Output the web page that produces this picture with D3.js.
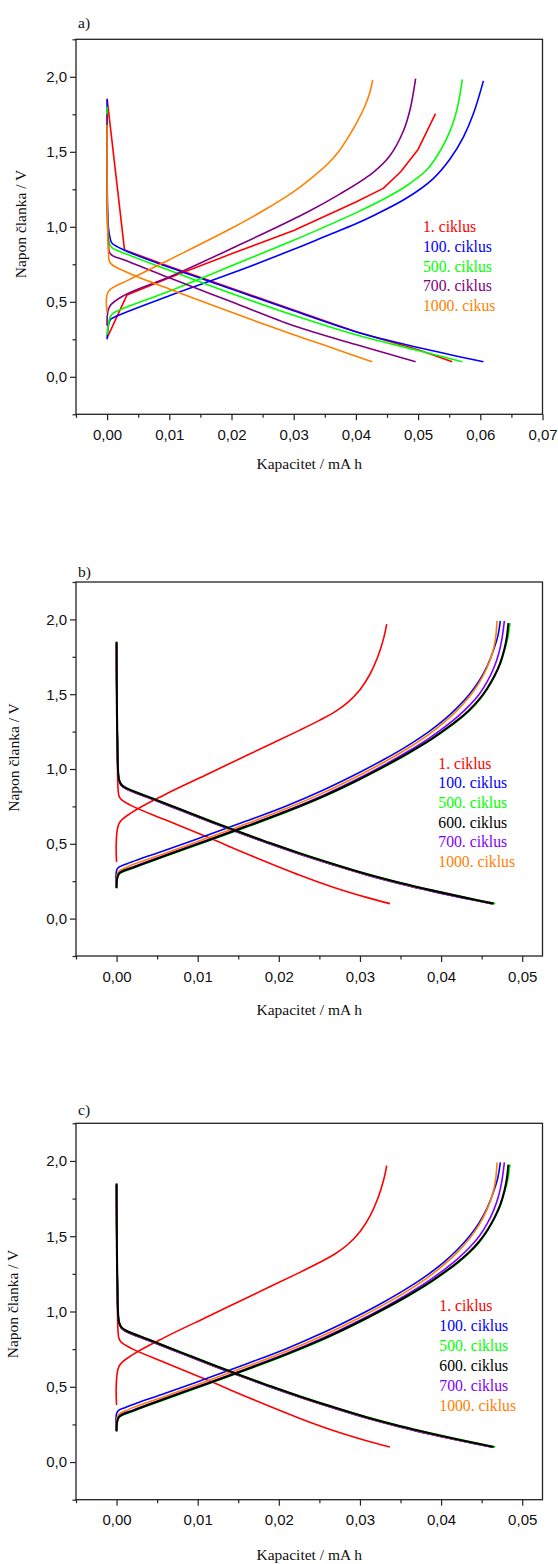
<!DOCTYPE html>
<html><head><meta charset="utf-8">
<script src="https://cdn.jsdelivr.net/npm/d3@7"></script>
<style>body{margin:0;background:#fff} svg{display:block}</style>
</head><body>
<script>
// ---------- tick values ----------
const xTicksA = [0,0.01,0.02,0.03,0.04,0.05,0.06,0.07];
const xTicksB = [0,0.01,0.02,0.03,0.04,0.05];
const yTicks = [0,0.5,1.0,1.5,2.0];

// ---------- panel a data: [capacity mAh, voltage V] ----------
const aRedDis = [[0,1.855],[0.0028,0.846],[0.01,0.735],[0.02,0.59],[0.03,0.445],[0.04,0.30],[0.05,0.18],[0.0555,0.10]];
const aRedCh = [[0,0.26],[0.0032,0.546],[0.01,0.66],[0.02,0.82],[0.03,0.975],[0.04,1.165],[0.0444,1.256],[0.0472,1.367],[0.050,1.516],[0.0528,1.755]];
const aBlueDis = [[0,1.85],[0.0002,1.0],[0.0005,0.92],[0.0008,0.89],[0.003,0.84],[0.01,0.73],[0.02,0.585],[0.03,0.44],[0.04,0.30],[0.05,0.195],[0.0605,0.10]];
const aBlueCh = [[0,0.25],[0.0005,0.38],[0.0013,0.40],[0.01,0.54],[0.02,0.69],[0.03,0.85],[0.035,0.935],[0.04,1.02],[0.0427,1.072],[0.0481,1.19],[0.0524,1.32],[0.0551,1.45],[0.0573,1.60],[0.0589,1.755],[0.0605,1.973]];
const aGreenDis = [[0,1.80],[0.0002,0.95],[0.0006,0.868],[0.003,0.82],[0.01,0.71],[0.02,0.555],[0.03,0.41],[0.04,0.28],[0.05,0.175],[0.0571,0.10]];
const aGreenCh = [[0,0.28],[0.0005,0.40],[0.001,0.424],[0.01,0.57],[0.02,0.74],[0.03,0.91],[0.035,1.0],[0.04,1.093],[0.0445,1.185],[0.0481,1.272],[0.0514,1.38],[0.053,1.47],[0.0545,1.58],[0.0556,1.69],[0.0564,1.81],[0.0571,1.982]];
const aPurpleDis = [[0,1.75],[0.0002,0.9],[0.0005,0.82],[0.003,0.775],[0.01,0.66],[0.02,0.50],[0.03,0.34],[0.04,0.215],[0.0496,0.10]];
const aPurpleCh = [[0,0.34],[0.0004,0.468],[0.0029,0.546],[0.01,0.665],[0.02,0.855],[0.032,1.094],[0.0374,1.218],[0.0427,1.36],[0.0454,1.47],[0.0476,1.635],[0.0487,1.78],[0.0496,1.988]];
const aOrangeDis = [[0,1.68],[0.0002,0.85],[0.0005,0.76],[0.003,0.70],[0.01,0.585],[0.02,0.43],[0.03,0.28],[0.036,0.195],[0.0426,0.10]];
const aOrangeCh = [[0,0.43],[0.0002,0.568],[0.0035,0.646],[0.01,0.78],[0.02,0.99],[0.025,1.105],[0.03,1.235],[0.033,1.33],[0.0355,1.42],[0.0372,1.50],[0.0388,1.60],[0.0402,1.70],[0.0414,1.80],[0.0422,1.89],[0.0427,1.98]];

const aLabels = ["1. ciklus","100. ciklus","500. ciklus","700. ciklus","1000. cikus"];
const aColors = ["#ff0000","#0000ff","#00ff00","#800080","#ff8000"];

// ---------- panels b and c data ----------
const bRedDis = [[0,1.84],[0.0001,1.1],[0.0003,0.82],[0.0006,0.795],[0.002,0.75],[0.006,0.66],[0.0114,0.54],[0.0164,0.425],[0.0226,0.29],[0.0267,0.21],[0.0308,0.142],[0.0337,0.10]];
const bRedCh = [[0,0.379],[0.0003,0.635],[0.002,0.713],[0.006,0.83],[0.0114,0.97],[0.0164,1.10],[0.0226,1.26],[0.025,1.325],[0.027,1.385],[0.0285,1.445],[0.03,1.53],[0.0312,1.63],[0.0322,1.75],[0.0329,1.87],[0.0333,1.969]];
const bBlueDis = [[0,1.84],[0.0001,1.19],[0.0003,0.924],[0.0006,0.889],[0.0012,0.866],[0.004,0.806],[0.008,0.721],[0.012,0.637],[0.0155,0.566],[0.019,0.497],[0.0226,0.43],[0.0267,0.359],[0.0308,0.292],[0.035,0.232],[0.039,0.181],[0.0428,0.137],[0.0462,0.10]];
const bBlueCh = [[0,0.21],[0.0001,0.334],[0.0011,0.363],[0.006,0.457],[0.011,0.553],[0.016,0.652],[0.021,0.755],[0.0255,0.86],[0.0295,0.965],[0.033,1.065],[0.036,1.16],[0.0385,1.25],[0.0405,1.335],[0.042,1.41],[0.0435,1.50],[0.0447,1.59],[0.0457,1.69],[0.0465,1.80],[0.047,1.89],[0.0473,1.99]];
const bGreenDis = [[0,1.85],[0.0001,1.2],[0.0003,0.932],[0.0006,0.897],[0.0012,0.874],[0.004,0.814],[0.008,0.729],[0.012,0.645],[0.0155,0.574],[0.019,0.505],[0.0226,0.438],[0.0267,0.367],[0.0308,0.30],[0.035,0.24],[0.039,0.189],[0.0428,0.144],[0.0467,0.10]];
const bGreenCh = [[0,0.20],[0.0003,0.295],[0.002,0.336],[0.006,0.416],[0.011,0.513],[0.016,0.611],[0.021,0.713],[0.0255,0.814],[0.0295,0.916],[0.033,1.014],[0.036,1.104],[0.0385,1.186],[0.0405,1.26],[0.042,1.32],[0.0435,1.39],[0.0447,1.46],[0.0457,1.535],[0.0466,1.62],[0.0473,1.705],[0.0478,1.79],[0.0482,1.87],[0.0485,1.975]];
const bBlackDis = [[0,1.85],[0.0001,1.2],[0.0003,0.93],[0.0006,0.895],[0.0012,0.872],[0.004,0.812],[0.008,0.727],[0.012,0.643],[0.0155,0.572],[0.019,0.503],[0.0226,0.436],[0.0267,0.365],[0.0308,0.298],[0.035,0.238],[0.039,0.187],[0.0428,0.142],[0.0465,0.10]];
const bBlackCh = [[0,0.205],[0.0003,0.30],[0.002,0.34],[0.006,0.42],[0.011,0.517],[0.016,0.615],[0.021,0.717],[0.0255,0.818],[0.0295,0.92],[0.033,1.018],[0.036,1.108],[0.0385,1.19],[0.0405,1.265],[0.042,1.325],[0.0435,1.395],[0.0447,1.465],[0.0457,1.54],[0.0466,1.625],[0.0473,1.71],[0.0478,1.80],[0.0481,1.88],[0.0483,1.975]];
const bPurpleDis = [[0,1.84],[0.0001,1.19],[0.0003,0.925],[0.0006,0.89],[0.0012,0.867],[0.004,0.807],[0.008,0.722],[0.012,0.638],[0.0155,0.567],[0.019,0.498],[0.0226,0.431],[0.0267,0.36],[0.0308,0.293],[0.035,0.233],[0.039,0.182],[0.0428,0.138],[0.0463,0.10]];
const bPurpleCh = [[0,0.21],[0.0003,0.305],[0.002,0.345],[0.006,0.425],[0.011,0.522],[0.016,0.62],[0.021,0.722],[0.0255,0.825],[0.0295,0.928],[0.033,1.027],[0.036,1.12],[0.0385,1.205],[0.0405,1.283],[0.042,1.348],[0.0435,1.425],[0.0447,1.50],[0.0457,1.585],[0.0465,1.675],[0.0471,1.77],[0.0475,1.87],[0.0478,1.99]];
const bOrangeDis = [[0,1.84],[0.0001,1.19],[0.0003,0.927],[0.0006,0.892],[0.0012,0.869],[0.004,0.809],[0.008,0.724],[0.012,0.64],[0.0155,0.569],[0.019,0.5],[0.0226,0.433],[0.0267,0.362],[0.0308,0.295],[0.035,0.235],[0.039,0.184],[0.0428,0.139],[0.0464,0.10]];
const bOrangeCh = [[0,0.21],[0.0002,0.31],[0.0015,0.35],[0.006,0.437],[0.011,0.535],[0.016,0.634],[0.021,0.737],[0.0255,0.842],[0.0295,0.947],[0.033,1.047],[0.036,1.142],[0.0385,1.232],[0.0405,1.318],[0.042,1.393],[0.0435,1.484],[0.0447,1.577],[0.0456,1.67],[0.0463,1.77],[0.0467,1.87],[0.0469,1.99]];

const bLabels = ["1. ciklus","100. ciklus","500. ciklus","600. ciklus","700. ciklus","1000. ciklus"];
const bColors = ["#ff0000","#0000ff","#00ff00","#000000","#8000ff","#ff8000"];

// ---------- drawing ----------
const W = 558, H = 1564;
const svg = d3.select("body").append("svg").attr("width", W).attr("height", H);
const fmtX = v => d3.format(".2f")(v).replace(".", ",");
const fmtY = v => d3.format(".1f")(v).replace(".", ",");
const SANS = "'Liberation Sans', Arial, sans-serif";
const SERIF = "'Liberation Serif', 'Times New Roman', serif";

function seriesA() {
  return [
    {d: aRedDis, c: aColors[0], lin: true}, {d: aRedCh, c: aColors[0], lin: true},
    {d: aBlueDis, c: aColors[1]}, {d: aBlueCh, c: aColors[1]},
    {d: aGreenDis, c: aColors[2]}, {d: aGreenCh, c: aColors[2]},
    {d: aPurpleDis, c: aColors[3]}, {d: aPurpleCh, c: aColors[3]},
    {d: aOrangeDis, c: aColors[4]}, {d: aOrangeCh, c: aColors[4]}
  ];
}
function seriesB() {
  return [
    {d: bRedDis, c: bColors[0]}, {d: bRedCh, c: bColors[0]},
    {d: bBlueDis, c: bColors[1]}, {d: bBlueCh, c: bColors[1]},
    {d: bGreenDis, c: bColors[2]}, {d: bGreenCh, c: bColors[2]},
    {d: bPurpleDis, c: bColors[4]}, {d: bPurpleCh, c: bColors[4]},
    {d: bOrangeDis, c: bColors[5]}, {d: bOrangeCh, c: bColors[5]},
    {d: bBlackDis, c: bColors[3], w: 2.1}, {d: bBlackCh, c: bColors[3], w: 2.1}
  ];
}

const panels = [
  {tag: "a)", tagY: 27.5, top: 39.3, bottom: 414.3, xDomain: [-0.005, 0.07], xTicks: xTicksA,
   series: seriesA(), labels: aLabels, colors: aColors, legX: 423, legY: 232, legDy: 19.8,
   xTitleY: 468.5, yTitleX: 26, yTitleY: 224},
  {tag: "b)", tagY: 576.5, top: 582, bottom: 956, xDomain: [-0.005, 0.0525], xTicks: xTicksB,
   series: seriesB(), labels: bLabels, colors: bColors, legX: 438.3, legY: 768.6, legDy: 19.7,
   xTitleY: 1015, yTitleX: 19, yTitleY: 757.5},
  {tag: "c)", tagY: 1114.5, top: 1123.3, bottom: 1499.7, xDomain: [-0.005, 0.0525], xTicks: xTicksB,
   series: seriesB(), labels: bLabels, colors: bColors, legX: 439.3, legY: 1311, legDy: 19.9,
   xTitleY: 1560, yTitleX: 17.5, yTitleY: 1304}
];

const L = 76, R = 542.5;

panels.forEach(p => {
  const x = d3.scaleLinear().domain(p.xDomain).range([L, R]);
  const y = d3.scaleLinear().domain([-0.25, 2.25]).range([p.bottom, p.top]);
  const g = svg.append("g");

  p.series.forEach(s => {
    const line = d3.line().x(d => x(d[0])).y(d => y(d[1]))
      .curve(s.lin ? d3.curveLinear : d3.curveCatmullRom.alpha(0.5));
    g.append("path").attr("d", line(s.d)).attr("fill", "none")
      .attr("stroke", s.c).attr("stroke-width", s.w || 1.6)
      .attr("stroke-linejoin", "round").attr("stroke-linecap", "butt");
  });

  g.append("rect").attr("x", L).attr("y", p.top).attr("width", R - L).attr("height", p.bottom - p.top)
    .attr("fill", "none").attr("stroke", "#222").attr("stroke-width", 1.3);

  const xMinor = d3.range(p.xDomain[0], p.xDomain[1] + 1e-9, 0.01);
  const xa = g.append("g").attr("transform", `translate(0,${p.bottom})`)
    .call(d3.axisBottom(x).tickValues(p.xTicks).tickFormat(fmtX).tickSize(6).tickPadding(9));
  const xm = g.append("g").attr("transform", `translate(0,${p.bottom})`)
    .call(d3.axisBottom(x).tickValues(xMinor).tickFormat("").tickSize(3.5));
  const ya = g.append("g").attr("transform", `translate(${L},0)`)
    .call(d3.axisLeft(y).tickValues(yTicks).tickFormat(fmtY).tickSize(6).tickPadding(3));
  const yMinor = [-0.25, 0.25, 0.75, 1.25, 1.75, 2.25];
  const ym = g.append("g").attr("transform", `translate(${L},0)`)
    .call(d3.axisLeft(y).tickValues(yMinor).tickFormat("").tickSize(3.5));
  [xa, xm, ya, ym].forEach(a => {
    a.select(".domain").remove();
    a.selectAll("line").attr("stroke", "#222").attr("stroke-width", 1.2);
    a.selectAll("text").attr("font-family", SANS).attr("font-size", 15).attr("fill", "#111");
  });

  g.append("text").attr("x", (L + R) / 2).attr("y", p.xTitleY).attr("text-anchor", "middle")
    .attr("font-family", SERIF).attr("font-size", 15.5).attr("fill", "#111").text("Kapacitet / mA h");
  g.append("text").attr("transform", `translate(${p.yTitleX},${p.yTitleY}) rotate(-90)`)
    .attr("text-anchor", "middle").attr("font-family", SERIF).attr("font-size", 15.5).attr("fill", "#111")
    .text("Napon članka / V");
  g.append("text").attr("x", 78).attr("y", p.tagY).attr("font-family", SERIF).attr("font-size", 15.5)
    .attr("fill", "#111").text(p.tag);

  p.labels.forEach((t, i) => {
    g.append("text").attr("x", p.legX).attr("y", p.legY + i * p.legDy)
      .attr("font-family", SERIF).attr("font-size", 15.7).attr("fill", p.colors[i]).text(t);
  });
});
</script>
</body></html>
